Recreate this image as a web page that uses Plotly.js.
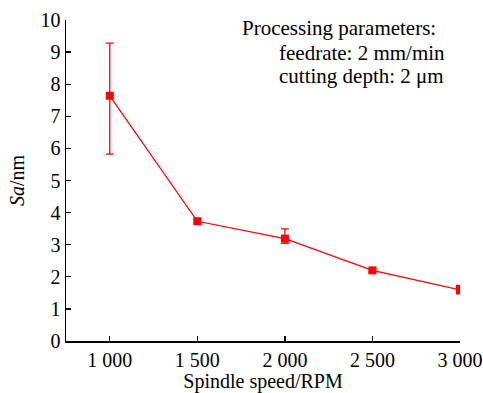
<!DOCTYPE html>
<html>
<head>
<meta charset="utf-8">
<script src="https://cdn.plot.ly/plotly-3.0.1.min.js"></script>
<style>html,body{margin:0;padding:0;background:#fff;}#chart{width:483px;height:393px;}</style>
</head>
<body>
<div id="chart"></div>
<script>
// Surface roughness Sa versus spindle speed
const speeds = [1000, 1500, 2000, 2500, 3000];
const saValues = [7.64, 3.73, 3.19, 2.20, 1.59];
const errPlus = [1.64, 0.05, 0.30, 0.05, 0.14];
const errMinus = [1.82, 0.05, 0.15, 0.05, 0.12];
const tickVals = [1000, 1500, 2000, 2500, 3000];
const tickText = ['1 000', '1 500', '2 000', '2 500', '3 000'];

const serif = '"Liberation Serif", "Times New Roman", serif';
const red = '#ff0000';

const trace = {
  x: speeds,
  y: saValues,
  type: 'scatter',
  mode: 'lines+markers',
  line: {color: red, width: 1.3},
  marker: {symbol: 'square', size: 8, color: red},
  error_y: {type: 'data', symmetric: false, array: errPlus, arrayminus: errMinus,
            color: red, thickness: 1.3, width: 4},
  showlegend: false
};

const layout = {
  width: 483, height: 393,
  margin: {l: 66, r: 23, t: 20, b: 52},
  paper_bgcolor: '#fff', plot_bgcolor: '#fff',
  font: {family: serif, size: 20, color: '#000'},
  xaxis: {
    range: [750, 3000],
    tickvals: tickVals, ticktext: tickText,
    ticks: 'inside', ticklen: 5, tickwidth: 1.3, tickcolor: '#000',
    showline: true, linecolor: '#000', linewidth: 1.5,
    showgrid: false, zeroline: false,
    tickfont: {family: serif, size: 20},
    title: {text: 'Spindle speed/RPM', font: {family: serif, size: 20}, standoff: 2}
  },
  yaxis: {
    range: [0, 10], dtick: 1,
    ticks: 'inside', ticklen: 5, tickwidth: 1.3, tickcolor: '#000',
    showline: true, linecolor: '#000', linewidth: 1.5,
    showgrid: false, zeroline: false,
    tickfont: {family: serif, size: 20},
    title: {text: '<i>Sa</i>/nm', font: {family: serif, size: 20}, standoff: 10}
  },
  annotations: [
    {xref: 'paper', yref: 'paper', x: 0.442, y: 0.975, xanchor: 'left', yanchor: 'middle',
     text: 'Processing parameters:', showarrow: false, font: {family: serif, size: 21}},
    {xref: 'paper', yref: 'paper', x: 0.535, y: 0.897, xanchor: 'left', yanchor: 'middle',
     text: 'feedrate: 2 mm/min', showarrow: false, font: {family: serif, size: 21}},
    {xref: 'paper', yref: 'paper', x: 0.535, y: 0.824, xanchor: 'left', yanchor: 'middle',
     text: 'cutting depth: 2 μm', showarrow: false, font: {family: serif, size: 21}}
  ]
};

Plotly.newPlot('chart', [trace], layout, {displayModeBar: false, staticPlot: true});
</script>
</body>
</html>
